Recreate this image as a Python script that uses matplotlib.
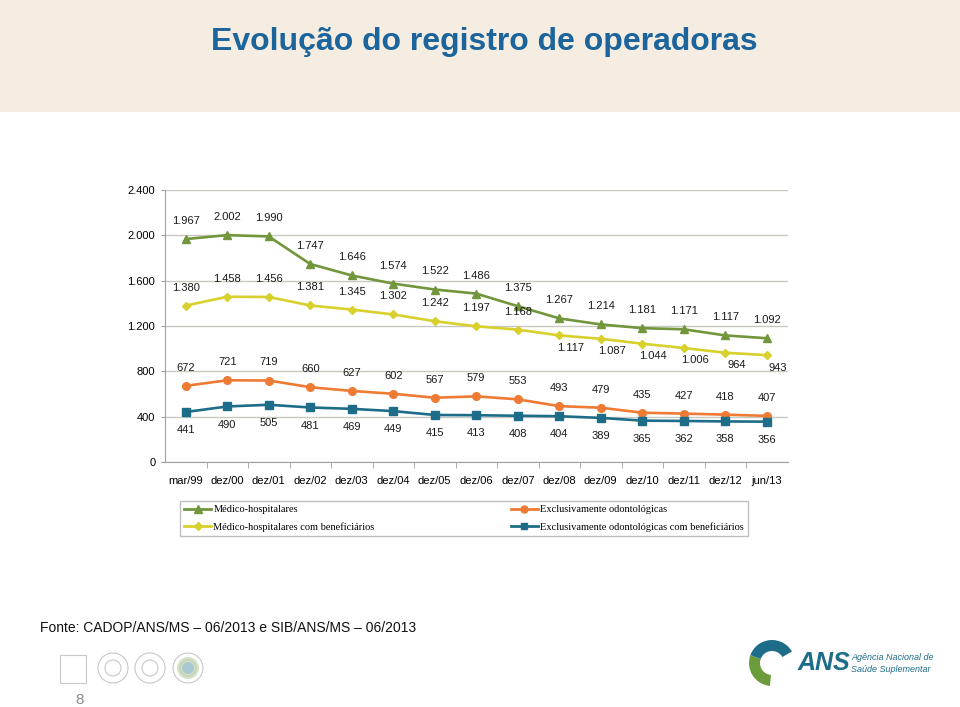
import matplotlib
matplotlib.use("Agg")
import matplotlib.pyplot as plt
from matplotlib.patches import Rectangle, Circle, Wedge
from matplotlib.lines import Line2D

periods = ["mar/99", "dez/00", "dez/01", "dez/02", "dez/03", "dez/04", "dez/05",
           "dez/06", "dez/07", "dez/08", "dez/09", "dez/10", "dez/11", "dez/12", "jun/13"]

medico_hosp = [1967, 2002, 1990, 1747, 1646, 1574, 1522, 1486, 1375, 1267,
               1214, 1181, 1171, 1117, 1092]
medico_hosp_benef = [1380, 1458, 1456, 1381, 1345, 1302, 1242, 1197, 1168, 1117,
                     1087, 1044, 1006, 964, 943]
odonto = [672, 721, 719, 660, 627, 602, 567, 579, 553, 493, 479, 435, 427, 418, 407]
odonto_benef = [441, 490, 505, 481, 469, 449, 415, 413, 408, 404, 389, 365, 362, 358, 356]

y_ticks = [0, 400, 800, 1200, 1600, 2000, 2400]

series = [
    ("Médico-hospitalares", medico_hosp, "#71963b", "^"),
    ("Médico-hospitalares com beneficiários", medico_hosp_benef, "#d8d02c", "D"),
    ("Exclusivamente odontológicas", odonto, "#ee7a34", "o"),
    ("Exclusivamente odontológicas com beneficiários", odonto_benef, "#1d6d89", "s"),
]
marker_size = {"^": 6, "D": 4.5, "o": 5.5, "s": 5.5}


def fmt(v):
    return f"{v:,}".replace(",", ".")


def label_offset(name, i):
    # where Excel put each data label relative to its point
    if name == "Exclusivamente odontológicas com beneficiários":
        return (0, -13)
    if name == "Médico-hospitalares com beneficiários" and i >= 9:
        return (8, -9)
    return (0, 13)


fig = plt.figure(figsize=(9.6, 7.07), dpi=100)
fig.patch.set_facecolor("white")

# title band
fig.add_artist(Rectangle((0, 1 - 112 / 707), 1, 112 / 707, transform=fig.transFigure,
                         facecolor="#f5ede1", edgecolor="none", zorder=0))
fig.text(0.504, 1 - 42 / 707, "Evolução do registro de operadoras", ha="center", va="center",
         fontsize=23, fontweight="bold", color="#1b649c", family="Liberation Sans")

ax = fig.add_axes([165 / 960, (707 - 462) / 707, 622.5 / 960, 272 / 707])
x = list(range(len(periods)))

for name, vals, color, marker in series:
    ax.plot(x, vals, color=color, linewidth=1.9, marker=marker,
            markersize=marker_size[marker], markeredgecolor=color, label=name, zorder=3)
    for i, v in enumerate(vals):
        dx, dy = label_offset(name, i)
        ax.annotate(fmt(v), (i, v), xytext=(dx, dy), textcoords="offset points",
                    ha="center", va="center", fontsize=8, color="#1a1a1a",
                    family="Liberation Sans")

ax.set_xlim(-0.5, len(periods) - 0.5)
ax.set_ylim(0, 2400)
ax.set_yticks(y_ticks)
ax.set_yticklabels([fmt(v) for v in y_ticks], fontsize=8, family="Liberation Sans")
ax.set_xticks(x)
ax.set_xticklabels(periods, fontsize=8, family="Liberation Sans")
ax.set_xticks([i + 0.5 for i in x[:-1]], minor=True)
ax.tick_params(axis="x", which="major", length=0, pad=10)
ax.tick_params(axis="x", which="minor", length=4, color="#a0a0a0")
ax.tick_params(axis="y", length=3, color="#a0a0a0", pad=4)
ax.grid(axis="y", color="#c8c8c0", linewidth=1)
ax.set_axisbelow(True)
for s in ["top", "right"]:
    ax.spines[s].set_visible(False)
for s in ["left", "bottom"]:
    ax.spines[s].set_color("#a0a0a0")

handles = [Line2D([0], [0], color=c, marker=m, markersize=marker_size[m] - 0.5,
                  linewidth=2.0) for _, _, c, m in series]
names = [s[0] for s in series]
leg = fig.legend(handles, names, ncol=2, loc="center",
                 bbox_to_anchor=(180 / 960, 1 - 538 / 707, 568 / 960, 39 / 707),
                 mode="expand", frameon=True, fancybox=False, edgecolor="#b0b0b0",
                 prop={"family": "Liberation Serif", "size": 7.5},
                 handlelength=2.6, handletextpad=0.2, borderaxespad=0,
                 labelspacing=0.75, columnspacing=2)
leg.get_frame().set_linewidth(1)

fig.text(40 / 960, 1 - 628 / 707, "Fonte: CADOP/ANS/MS – 06/2013 e SIB/ANS/MS – 06/2013",
         fontsize=10, va="center", family="Liberation Sans", color="#111111")
fig.text(80 / 960, 1 - 700 / 707, "8", fontsize=11, color="#8a8a8a", ha="center",
         va="center", family="Liberation Sans")

# decorative icons bottom-left
deco = fig.add_axes([0, 0, 1, 1], facecolor="none")
deco.set_xlim(0, 960)
deco.set_ylim(707, 0)
deco.axis("off")
deco.add_patch(Rectangle((60, 655), 26, 28, fill=False, edgecolor="#c8c8c8", linewidth=0.8))
for cx in [113, 150, 188]:
    deco.add_patch(Circle((cx, 668), 15, fill=False, edgecolor="#c8c8c8", linewidth=0.8))
    deco.add_patch(Circle((cx, 668), 8, fill=False, edgecolor="#c8c8c8", linewidth=0.8))
deco.add_patch(Circle((188, 668), 11, facecolor="#b9cfa0", edgecolor="none", alpha=0.6))
deco.add_patch(Circle((188, 668), 6, facecolor="#9cc3d6", edgecolor="none", alpha=0.8))

# ANS logo
deco.add_patch(Wedge((772, 663), 23, 95, 200, width=11, facecolor="#6b9b3a", edgecolor="none"))
deco.add_patch(Wedge((772, 663), 23, 200, 330, width=11, facecolor="#1d6d89", edgecolor="none"))
deco.text(798, 663, "ANS", fontsize=18, fontweight="bold", style="italic", color="#1d6d89",
          va="center", family="Liberation Sans")
deco.text(851, 657, "Agência Nacional de", fontsize=6.5, style="italic", color="#1d6d89",
          va="center", family="Liberation Sans")
deco.text(851, 669, "Saúde Suplementar", fontsize=6.5, style="italic", color="#1d6d89",
          va="center", family="Liberation Sans")

fig.savefig("out.png", dpi=100)
